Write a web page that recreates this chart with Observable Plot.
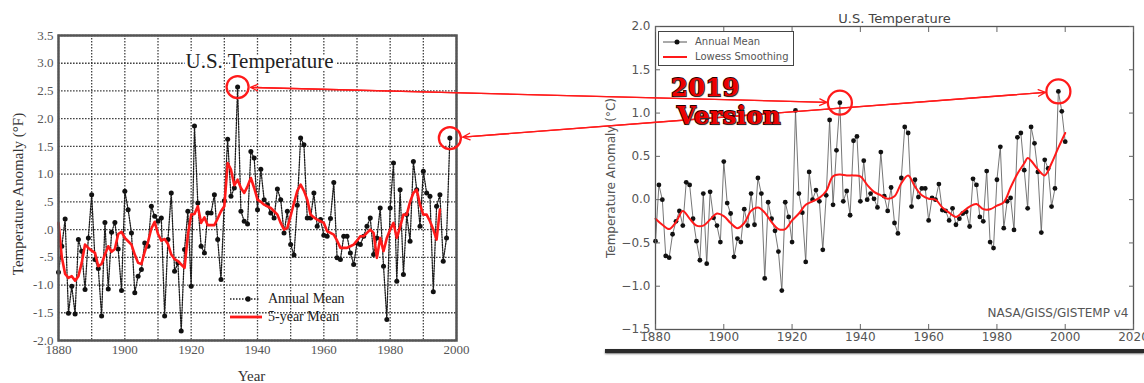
<!DOCTYPE html>
<html>
<head>
<meta charset="utf-8">
<script src="https://cdn.jsdelivr.net/npm/d3@7"></script>
<script src="https://cdn.jsdelivr.net/npm/@observablehq/plot@0.6"></script>
<style>
  body { margin: 0; background: #fff; }
  #wrap { position: relative; width: 1144px; height: 383px; overflow: hidden; background: #fff; }
  .abs { position: absolute; }
  #legL { left: 228px; top: 290px; font-family: "Liberation Serif", serif; font-size: 14px; color: #222; line-height: 18px; }
  #legL .row { display: flex; align-items: center; height: 18px; }
  #legL svg { margin-right: 6px; }
  #legR { left: 658px; top: 31px; width: 136px; height: 35px; border: 1px solid #444; background: #fff;
          font-family: "DejaVu Sans", sans-serif; font-size: 10px; color: #555; box-sizing: border-box; padding-top: 2px; }
  #legR .row { display: flex; align-items: center; height: 15px; }
  #legR svg { margin-left: 4px; margin-right: 8px; }
  #shadow { left: 605px; top: 349px; width: 539px; height: 4px; background: #2a2a2a; box-shadow: 0 1px 2px #777; }
  #version { left: 671px; top: 74px; font-family: "DejaVu Serif", serif; font-weight: bold; font-size: 24px;
             color: #ee0000; -webkit-text-stroke: 1.8px #2a0000; paint-order: stroke fill; line-height: 28px;
             text-shadow: 1px 1px 1px #333; letter-spacing: 0.5px; }
</style>
</head>
<body>
<div id="wrap">
  <div id="left" class="abs" style="left:0;top:0"></div>
  <div id="right" class="abs" style="left:600px;top:0"></div>
  <div id="shadow" class="abs"></div>
  <div id="legL" class="abs">
    <div class="row"><svg width="34" height="10"><line x1="2" y1="5" x2="32" y2="5" stroke="#222" stroke-width="1.3" stroke-dasharray="1.5,1.5"/><circle cx="20" cy="5" r="2.7" fill="#111"/></svg>Annual Mean</div>
    <div class="row"><svg width="34" height="10"><line x1="2" y1="5" x2="34" y2="5" stroke="#ff1a1a" stroke-width="2.8"/></svg>5-year Mean</div>
  </div>
  <div id="legR" class="abs">
    <div class="row"><svg width="24" height="10"><line x1="0" y1="5" x2="24" y2="5" stroke="#555" stroke-width="1"/><circle cx="14" cy="5" r="2.5" fill="#111"/></svg>Annual Mean</div>
    <div class="row"><svg width="24" height="10"><line x1="0" y1="5" x2="24" y2="5" stroke="#ff1a1a" stroke-width="2"/></svg>Lowess Smoothing</div>
  </div>
  <div id="overlay" class="abs" style="left:0;top:0;pointer-events:none"></div>
  <div id="version" class="abs"><div>2019</div><div style="margin-left:6px">Version</div></div>
</div>
<script>
// ---------- DATA ----------
// Old (1999) GISS U.S. annual mean anomaly, °F, 1880–1998
const oldStartYear = 1880;
const oldAnnualValues = [
  -0.77, -0.30, 0.19, -1.51, -1.02, -1.52, -0.18, -0.39, -1.08, -0.15,
  0.63, -0.54, -0.70, -1.56, 0.13, -1.07, -0.05, 0.13, -0.35, -1.10,
  0.69, 0.36, -0.06, -1.14, -0.84, -0.72, -0.24, -0.30, 0.42, 0.24,
  0.15, 0.21, -1.56, -0.18, 0.66, -0.75, -0.60, -1.83, -0.36, 0.33,
  -1.02, 1.87, 0.48, -0.30, -0.42, 0.30, 0.30, 0.63, -0.18, -0.90,
  0.52, 1.63, 0.60, 0.75, 2.57, 0.33, 0.15, 0.10, 1.41, 1.29,
  0.36, 1.09, 0.54, 0.45, 0.30, 0.21, 0.73, 0.54, -0.06, 0.33,
  -0.27, -0.46, 0.44, 1.65, 1.53, 0.21, 0.21, 0.66, 0.06, 0.18,
  -0.10, -0.12, 0.20, 0.85, -0.51, -0.54, -0.12, -0.12, -0.42, -0.63,
  -0.24, -0.27, -0.12, 0.06, 0.21, -0.45, -0.15, 0.39, -0.66, -1.62,
  0.39, 1.20, -0.93, 0.72, -0.81, 0.27, -0.21, 1.23, 0.72, 0.06,
  1.05, 0.66, 0.60, -1.12, 0.42, 0.63, -0.57, -0.15, 1.65
];
// Old 5-year mean, °F, 1880–1995
const old5yrValues = [
  0.12, -0.50, -0.80, -0.87, -0.84, -0.92, -0.84, -0.60, -0.27, -0.33,
  -0.38, -0.42, -0.66, -0.62, -0.45, -0.30, -0.40, -0.35, -0.08, -0.04,
  -0.15, -0.21, -0.27, -0.45, -0.60, -0.62, -0.40, -0.22, 0.02, 0.14,
  -0.08, -0.20, -0.17, -0.26, -0.45, -0.53, -0.57, -0.63, -0.69, -0.10,
  0.27, 0.28, 0.42, 0.12, 0.22, 0.08, 0.08, 0.08, 0.20, 0.33,
  0.42, 1.20, 1.08, 0.80, 0.90, 0.75, 0.66, 0.78, 0.93, 0.75,
  0.54, 0.50, 0.45, 0.42, 0.39, 0.33, 0.27, 0.12, 0.00, 0.03,
  0.25, 0.48, 0.70, 0.81, 0.70, 0.54, 0.27, 0.22, 0.18, 0.15,
  0.12, -0.03, -0.06, -0.09, -0.20, -0.33, -0.33, -0.33, -0.30, -0.27,
  -0.20, -0.12, -0.12, -0.06, 0.00, -0.06, -0.51, -0.15, -0.39, -0.15,
  0.00, 0.12, -0.15, 0.05, 0.27, 0.27, 0.50, 0.66, 0.72, 0.45,
  0.27, 0.27, 0.15, 0.00, -0.18, 0.36
];
// 2019 GISTEMP v4 U.S. annual mean anomaly, °C, 1880–2000
const newStartYear = 1880;
const newAnnualValues = [
  -0.48, 0.17, 0.00, -0.65, -0.67, -0.40, -0.25, -0.13, -0.30, 0.20,
  0.17, -0.22, -0.48, -0.70, 0.07, -0.74, 0.09, -0.21, -0.30, -0.49,
  0.44, -0.04, -0.16, -0.66, -0.45, -0.49, -0.11, -0.30, 0.07, -0.29,
  0.25, 0.07, -0.91, -0.03, -0.22, -0.36, -0.60, -1.05, -0.03, -0.20,
  -0.49, 1.03, 0.07, -0.15, -0.72, 0.32, 0.00, 0.11, -0.02, -0.58,
  0.05, 0.92, -0.06, 0.57, 1.12, -0.02, 0.10, -0.18, 0.68, 0.73,
  -0.02, 0.45, 0.00, 0.07, 0.01, -0.09, 0.55, 0.04, -0.13, 0.14,
  -0.27, -0.39, 0.25, 0.84, 0.77, -0.08, 0.23, 0.03, 0.13, 0.13,
  -0.24, 0.02, 0.00, 0.18, -0.12, -0.13, -0.24, -0.10, -0.29, -0.22,
  -0.16, -0.14, -0.31, 0.24, 0.17, -0.20, -0.25, 0.33, -0.49, -0.56,
  0.23, 0.61, -0.33, -0.02, 0.02, -0.35, 0.72, 0.77, 0.34, -0.10,
  0.84, 0.65, 0.32, -0.38, 0.46, 0.36, -0.08, 0.13, 1.25, 1.02,
  0.67
];
// 2019 Lowess smoothing, °C (read at these years)
const lowessYears = [1880, 1882, 1884, 1886, 1888, 1890, 1892, 1894, 1896, 1898,
  1900, 1902, 1904, 1906, 1908, 1910, 1912, 1914, 1916, 1918,
  1920, 1922, 1924, 1926, 1928, 1930, 1932, 1934, 1936, 1938,
  1940, 1942, 1944, 1946, 1948, 1950, 1952, 1954, 1956, 1958,
  1960, 1962, 1964, 1966, 1968, 1970, 1972, 1974, 1976, 1978,
  1980, 1982, 1984, 1986, 1988, 1989, 1990, 1992, 1994, 1996, 1998, 2000];
const lowessValues = [-0.22, -0.29, -0.34, -0.26, -0.13, -0.22, -0.30, -0.30, -0.23, -0.16,
  -0.19, -0.27, -0.33, -0.27, -0.13, -0.09, -0.15, -0.26, -0.34, -0.34,
  -0.24, -0.16, -0.06, -0.02, 0.02, 0.10, 0.27, 0.29, 0.28, 0.28,
  0.27, 0.17, 0.09, 0.05, 0.01, 0.04, 0.19, 0.28, 0.15, 0.05,
  0.01, 0.00, -0.09, -0.15, -0.20, -0.14, -0.08, -0.05, -0.11, -0.11,
  -0.07, -0.03, 0.14, 0.30, 0.42, 0.48, 0.45, 0.35, 0.28, 0.42, 0.60, 0.77];

const oldXTicks = [1880, 1900, 1920, 1940, 1960, 1980, 2000];
const oldGridYears = [1880, 1890, 1900, 1910, 1920, 1930, 1940, 1950, 1960, 1970, 1980, 1990, 2000];
const oldYTicks = [-2.0, -1.5, -1.0, -0.5, 0.0, 0.5, 1.0, 1.5, 2.0, 2.5, 3.0, 3.5];
const newXTicks = [1880, 1900, 1920, 1940, 1960, 1980, 2000, 2020];
const newYTicks = [-1.5, -1.0, -0.5, 0.0, 0.5, 1.0, 1.5, 2.0];
const highlightYears = [1934, 1998];

// ---------- TABLES ----------
const oldAnnual = oldAnnualValues.map((v, i) => ({year: oldStartYear + i, value: v}));
const old5yr = old5yrValues.map((v, i) => ({year: oldStartYear + i, value: v}));
const newAnnual = newAnnualValues.map((v, i) => ({year: newStartYear + i, value: v}));
const lowess = lowessYears.map((y, i) => ({year: y, value: lowessValues[i]}));

const RED = "#ff1a1a";
const oldFmt = d => { const s = Math.abs(d).toFixed(1); const t = Math.abs(d) < 1 ? s.replace(/^0/, "") : s; return (d < 0 ? "-" : "") + t; };
const newFmt = d => d.toFixed(1).replace("-", "\u2212");

// ---------- LEFT (old) CHART ----------
const serif = "'Liberation Serif', 'Times New Roman', serif";
const left = Plot.plot({
  width: 470, height: 383,
  marginLeft: 58, marginRight: 14, marginTop: 35, marginBottom: 43,
  x: {domain: [1880, 2000]},
  y: {domain: [-2, 3.5]},
  style: {fontFamily: serif, background: "white", overflow: "visible"},
  marks: [
    Plot.gridX(oldGridYears, {stroke: "#222", strokeOpacity: 0.85, strokeWidth: 1.3, strokeDasharray: "1.6,1.4"}),
    Plot.gridY(oldYTicks, {stroke: "#222", strokeOpacity: 0.85, strokeWidth: 1.3, strokeDasharray: "1.6,1.4"}),
    Plot.axisX(oldXTicks, {tickSize: 0, tickPadding: 4, fontSize: 13, fill: "#555", tickFormat: d => String(d), label: null}),
    Plot.axisY(oldYTicks, {tickSize: 0, tickPadding: 5, fontSize: 13, fill: "#555", tickFormat: oldFmt, label: null}),
    Plot.text(["Temperature Anomaly (\u00B0F)"], {frameAnchor: "left", textAnchor: "middle", lineAnchor: "middle", rotate: -90, dx: -40, dy: 6, fontSize: 15, fill: "#333"}),
    Plot.text(["Year"], {frameAnchor: "bottom", textAnchor: "middle", lineAnchor: "middle", dx: -6, dy: 36, fontSize: 15, fill: "#333"}),
    Plot.text(["U.S. Temperature"], {frameAnchor: "top", textAnchor: "middle", lineAnchor: "middle", dy: 26, dx: 2, fontSize: 21, fill: "#222", stroke: "white", strokeWidth: 6}),
    Plot.line(oldAnnual, {x: "year", y: "value", stroke: "#1a1a1a", strokeWidth: 1.3, strokeDasharray: "1.3,1.3"}),
    Plot.dot(oldAnnual, {x: "year", y: "value", r: 2.5, fill: "#111"}),
    Plot.line(old5yr, {x: "year", y: "value", stroke: RED, strokeWidth: 2.6, strokeLinejoin: "round"}),
    Plot.frame({stroke: "#555", strokeWidth: 2.5})
  ]
});
document.getElementById("left").append(left);

// ---------- RIGHT (2019) CHART ----------
const sans = "'DejaVu Sans', sans-serif";
const right = Plot.plot({
  width: 544, height: 360,
  marginLeft: 55, marginRight: 11, marginTop: 26, marginBottom: 31,
  x: {domain: [1880, 2020]},
  y: {domain: [-1.5, 2.0]},
  style: {fontFamily: sans, background: "white", overflow: "visible"},
  marks: [
    Plot.line(newAnnual, {x: "year", y: "value", stroke: "#666", strokeWidth: 0.9}),
    Plot.dot(newAnnual, {x: "year", y: "value", r: 2.4, fill: "#111"}),
    Plot.line(lowess, {x: "year", y: "value", stroke: RED, strokeWidth: 2, curve: "catmull-rom"}),
    Plot.frame({stroke: "#555", strokeWidth: 1.3}),
    Plot.axisX(newXTicks, {anchor: "bottom", tickSize: 0, tickPadding: 3, fontSize: 12, fill: "#555", tickFormat: d => String(d), label: null}),
    Plot.axisX(newXTicks, {anchor: "bottom", tickSize: -5, stroke: "#666", tickFormat: () => "", label: null}),
    Plot.axisX(newXTicks, {anchor: "top", tickSize: -5, stroke: "#666", tickFormat: () => "", label: null}),
    Plot.axisY(newYTicks, {anchor: "left", tickSize: 0, tickPadding: 5, fontSize: 12, fill: "#555", tickFormat: newFmt, label: null}),
    Plot.axisY(newYTicks, {anchor: "left", tickSize: -5, stroke: "#666", tickFormat: () => "", label: null}),
    Plot.axisY(newYTicks, {anchor: "right", tickSize: -5, stroke: "#666", tickFormat: () => "", label: null}),
    Plot.text(["U.S. Temperature"], {frameAnchor: "top", textAnchor: "middle", lineAnchor: "middle", dy: -8, fontSize: 13, fill: "#444"}),
    Plot.text(["NASA/GISS/GISTEMP v4"], {frameAnchor: "bottom-right", textAnchor: "end", lineAnchor: "middle", dx: -5, dy: -16, fontSize: 12, fill: "#555"}),
    Plot.text(["Temperature Anomaly (\u00B0C)"], {frameAnchor: "left", textAnchor: "middle", lineAnchor: "middle", rotate: -90, dx: -44, fontSize: 12, fill: "#555"})
  ]
});
document.getElementById("right").append(right);

// ---------- OVERLAY (circles + arrows, positioned through both charts' scales) ----------
const RIGHT_LEFT = 600, RIGHT_TOP = 0;
const lx = left.scale("x"), ly = left.scale("y"), rx = right.scale("x"), ry = right.scale("y");
const links = highlightYears.map(yr => {
  const o = oldAnnual.find(d => d.year === yr);
  const n = newAnnual.find(d => d.year === yr);
  return {
    xOld: lx.apply(o.year), yOld: ly.apply(o.value),
    xNew: RIGHT_LEFT + rx.apply(n.year), yNew: RIGHT_TOP + ry.apply(n.value)
  };
});
const overlay = Plot.plot({
  width: 1144, height: 383, margin: 0,
  x: {type: "identity", axis: null},
  y: {type: "identity", axis: null},
  style: {background: "transparent"},
  marks: [
    Plot.arrow(links, {x1: "xNew", y1: "yNew", x2: "xOld", y2: "yOld", stroke: RED, strokeWidth: 1.3, headLength: 9, headAngle: 50, insetStart: 13, insetEnd: 13}),
    Plot.arrow(links, {x1: "xOld", y1: "yOld", x2: "xNew", y2: "yNew", stroke: RED, strokeWidth: 1.3, headLength: 9, headAngle: 50, insetStart: 13, insetEnd: 13}),
    Plot.dot(links, {x: "xOld", y: "yOld", r: 11, stroke: RED, strokeWidth: 2.3, fill: "none"}),
    Plot.dot(links, {x: "xNew", y: "yNew", r: 12, stroke: RED, strokeWidth: 2.3, fill: "none"})
  ]
});
document.getElementById("overlay").append(overlay);
</script>
</body>
</html>
